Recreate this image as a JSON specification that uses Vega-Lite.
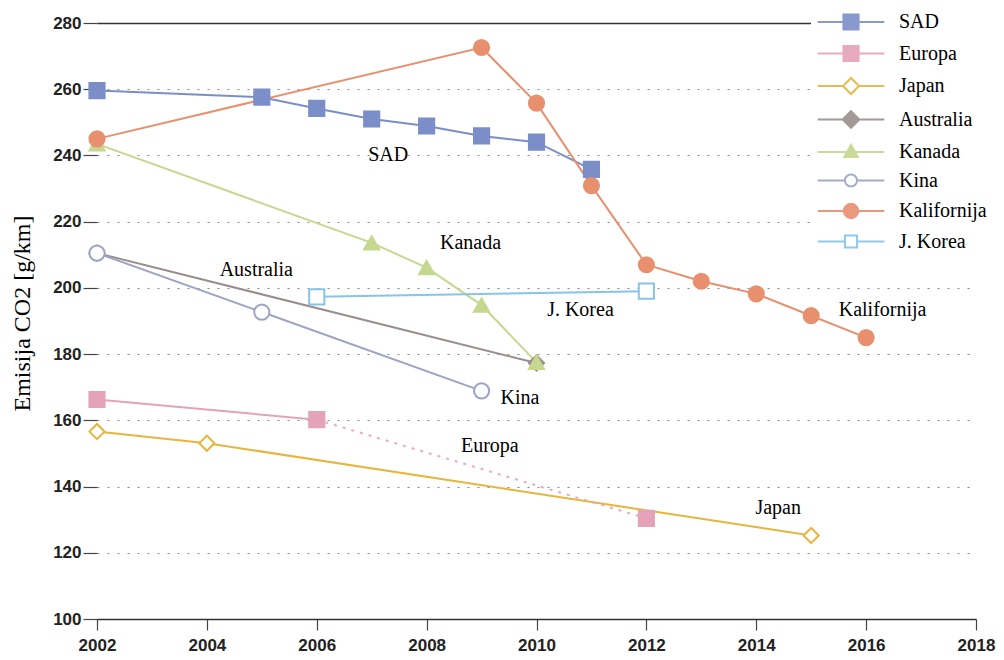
{
  "$schema": "https://vega.github.io/schema/vega-lite/v6.json",
  "autosize": "none",
  "width": 879,
  "height": 596,
  "padding": {"left": 97, "top": 23, "right": 28, "bottom": 41},
  "background": "white",
  "config": {"view": {"stroke": null}},
  "datasets": {
    "emisije": [
      {"drzava": "SAD", "godina": 2002, "emisija": 259.6},
      {"drzava": "SAD", "godina": 2005, "emisija": 257.6},
      {"drzava": "SAD", "godina": 2006, "emisija": 254.2},
      {"drzava": "SAD", "godina": 2007, "emisija": 251.0},
      {"drzava": "SAD", "godina": 2008, "emisija": 248.9},
      {"drzava": "SAD", "godina": 2009, "emisija": 245.9},
      {"drzava": "SAD", "godina": 2010, "emisija": 244.0},
      {"drzava": "SAD", "godina": 2011, "emisija": 235.8},
      {"drzava": "Europa", "godina": 2002, "emisija": 166.3},
      {"drzava": "Europa", "godina": 2006, "emisija": 160.2},
      {"drzava": "Europa", "godina": 2012, "emisija": 130.4, "cilj": true},
      {"drzava": "Japan", "godina": 2002, "emisija": 156.6},
      {"drzava": "Japan", "godina": 2004, "emisija": 153.1},
      {"drzava": "Japan", "godina": 2015, "emisija": 125.2},
      {"drzava": "Australia", "godina": 2002, "emisija": 210.5},
      {"drzava": "Australia", "godina": 2010, "emisija": 177.3},
      {"drzava": "Kanada", "godina": 2002, "emisija": 243.5},
      {"drzava": "Kanada", "godina": 2007, "emisija": 213.6},
      {"drzava": "Kanada", "godina": 2008, "emisija": 206.1},
      {"drzava": "Kanada", "godina": 2009, "emisija": 194.8},
      {"drzava": "Kanada", "godina": 2010, "emisija": 177.5},
      {"drzava": "Kina", "godina": 2002, "emisija": 210.5},
      {"drzava": "Kina", "godina": 2005, "emisija": 192.7},
      {"drzava": "Kina", "godina": 2009, "emisija": 168.9},
      {"drzava": "Kalifornija", "godina": 2002, "emisija": 245.0},
      {"drzava": "Kalifornija", "godina": 2009, "emisija": 272.6},
      {"drzava": "Kalifornija", "godina": 2010, "emisija": 255.8},
      {"drzava": "Kalifornija", "godina": 2011, "emisija": 230.9},
      {"drzava": "Kalifornija", "godina": 2012, "emisija": 207.0},
      {"drzava": "Kalifornija", "godina": 2013, "emisija": 202.0},
      {"drzava": "Kalifornija", "godina": 2014, "emisija": 198.2},
      {"drzava": "Kalifornija", "godina": 2015, "emisija": 191.6},
      {"drzava": "Kalifornija", "godina": 2016, "emisija": 185.0},
      {"drzava": "J. Korea", "godina": 2006, "emisija": 197.3},
      {"drzava": "J. Korea", "godina": 2012, "emisija": 199.0}
    ],
    "oznake": [
      {"tekst": "SAD", "godina": 2007.3, "emisija": 240.1},
      {"tekst": "Kanada", "godina": 2008.8, "emisija": 213.6},
      {"tekst": "Australia", "godina": 2004.9, "emisija": 205.4},
      {"tekst": "J. Korea", "godina": 2010.8, "emisija": 193.3},
      {"tekst": "Kalifornija", "godina": 2016.3, "emisija": 193.3},
      {"tekst": "Kina", "godina": 2009.7, "emisija": 166.7},
      {"tekst": "Europa", "godina": 2009.15, "emisija": 152.2},
      {"tekst": "Japan", "godina": 2014.4, "emisija": 133.5}
    ]
  },
  "encoding": {
    "x": {
      "field": "godina", "type": "quantitative",
      "scale": {"domain": [2002, 2018], "nice": false, "zero": false},
      "axis": {
        "values": [2002, 2004, 2006, 2008, 2010, 2012, 2014, 2016, 2018],
        "format": "d", "title": null, "grid": false,
        "labelFont": "Liberation Sans", "labelFontWeight": "bold", "labelFontSize": 17,
        "labelColor": "#222", "labelFlush": false, "labelPadding": 7,
        "tickSize": 11, "tickColor": "#444", "tickWidth": 1.2,
        "domainColor": "#333", "domainWidth": 1.5
      }
    },
    "y": {
      "field": "emisija", "type": "quantitative",
      "scale": {"domain": [100, 280], "nice": false, "zero": false},
      "axis": {
        "values": [100, 120, 140, 160, 180, 200, 220, 240, 260, 280],
        "title": "Emisija CO2 [g/km]",
        "titleFont": "Liberation Serif", "titleFontSize": 24, "titleFontWeight": "normal",
        "titleColor": "black", "titleX": -75, "titleY": 290, "titleAngle": -90,
        "titleAlign": "center", "titleBaseline": "middle",
        "domain": false,
        "labelFont": "Liberation Sans", "labelFontWeight": "bold", "labelFontSize": 17,
        "labelColor": "#222", "labelPadding": 2,
        "tickSize": 14, "tickColor": "#444", "tickWidth": 1.2,
        "grid": true,
        "gridColor": {"condition": {"test": "datum.value === 280", "value": "#333"}, "value": "#888"},
        "gridDash": {"condition": {"test": "datum.value === 280", "value": []}, "value": [2, 8]},
        "gridWidth": {"condition": {"test": "datum.value === 280", "value": 1.5}, "value": 1.2}
      }
    }
  },
  "layer": [
    {
      "data": {"name": "emisije"},
      "transform": [{"filter": "datum.cilj !== true"}],
      "mark": {"type": "line", "strokeWidth": 2},
      "encoding": {
        "stroke": {"field": "drzava", "type": "nominal",
          "scale": {
            "domain": ["SAD", "Europa", "Japan", "Australia", "Kanada", "Kina", "Kalifornija", "J. Korea"],
            "range": ["#7b8ec8", "#e5a3b9", "#e8b53c", "#9a8e8c", "#c5d88e", "#9ea3c4", "#e8906e", "#86c4e8"]
          },
          "legend": {
            "title": null, "orient": "none", "legendX": 714, "legendY": -41,
            "padding": 30, "fillColor": "white",
            "symbolSize": 256, "symbolStrokeWidth": 2, "symbolOpacity": 1,
            "labelFont": "Liberation Serif", "labelFontSize": 20, "labelColor": "black",
            "labelOffset": 38, "rowPadding": 7.5,
            "labelExpr": "datum.label === 'SAD' || datum.label === 'Europa' ? datum.label : (datum.label === 'Japan' ? '\u00a0' + datum.label : '\u00a0\u00a0' + datum.label)"
          }
        }
      }
    },
    {
      "data": {"name": "emisije"},
      "transform": [{"filter": "datum.drzava === 'Europa' && datum.godina >= 2006"}],
      "mark": {"type": "line", "strokeWidth": 2, "strokeDash": [3, 6], "opacity": 0.9},
      "encoding": {
        "stroke": {"field": "drzava", "type": "nominal"}
      }
    },
    {
      "data": {"name": "emisije"},
      "transform": [{"filter": "datum.drzava === 'SAD' || datum.drzava === 'Europa' || datum.drzava === 'J. Korea'"}],
      "mark": {"type": "point", "shape": "square", "opacity": 1, "strokeWidth": 2, "filled": false},
      "encoding": {
        "stroke": {"field": "drzava", "type": "nominal"},
        "fill": {"field": "drzava", "type": "nominal",
          "scale": {
            "domain": ["SAD", "Europa", "Japan", "Australia", "Kanada", "Kina", "Kalifornija", "J. Korea"],
            "range": ["#7b8ec8", "#e5a3b9", "white", "#9a8e8c", "#c5d88e", "white", "#e8906e", "white"]
          }
        },
        "size": {"field": "drzava", "type": "nominal", "legend": null,
          "scale": {
            "domain": ["SAD", "Europa", "Japan", "Australia", "Kanada", "Kina", "Kalifornija", "J. Korea"],
            "range": [230, 230, 270, 290, 170, 170, 200, 160]
          }
        }
      }
    },
    {
      "data": {"name": "emisije"},
      "transform": [{"filter": "datum.drzava === 'Japan' || datum.drzava === 'Australia'"}],
      "mark": {"type": "point", "shape": "diamond", "opacity": 1, "strokeWidth": 2, "filled": false},
      "encoding": {
        "stroke": {"field": "drzava", "type": "nominal"},
        "fill": {"field": "drzava", "type": "nominal"},
        "size": {"field": "drzava", "type": "nominal", "legend": null}
      }
    },
    {
      "data": {"name": "emisije"},
      "transform": [{"filter": "datum.drzava === 'Kanada'"}],
      "mark": {"type": "point", "shape": "triangle-up", "opacity": 1, "strokeWidth": 2, "filled": false},
      "encoding": {
        "stroke": {"field": "drzava", "type": "nominal"},
        "fill": {"field": "drzava", "type": "nominal"},
        "size": {"field": "drzava", "type": "nominal", "legend": null}
      }
    },
    {
      "data": {"name": "emisije"},
      "transform": [{"filter": "datum.drzava === 'Kina' || datum.drzava === 'Kalifornija'"}],
      "mark": {"type": "point", "shape": "circle", "opacity": 1, "strokeWidth": 2, "filled": false},
      "encoding": {
        "stroke": {"field": "drzava", "type": "nominal"},
        "fill": {"field": "drzava", "type": "nominal"},
        "size": {"field": "drzava", "type": "nominal", "legend": null}
      }
    },
    {
      "data": {"name": "emisije"},
      "mark": {"type": "point", "opacity": 0, "filled": false},
      "encoding": {
        "shape": {"field": "drzava", "type": "nominal",
          "scale": {
            "domain": ["SAD", "Europa", "Japan", "Australia", "Kanada", "Kina", "Kalifornija", "J. Korea"],
            "range": [
              "M-4.4,0H4.4M-1,-1H1V1H-1Z",
              "M-4.4,0H4.4M-1,-1H1V1H-1Z",
              "M-4.4,0H-1.06M1.06,0H4.4M-1.06,0L0,-1.06L1.06,0L0,1.06Z",
              "M-4.4,0H4.4M-1.1,0L0,-1.1L1.1,0L0,1.1Z",
              "M-4.4,0H4.4M0,-0.95L0.9,0.65H-0.9Z",
              "M-4.4,0H-0.8M0.8,0H4.4M-0.8,0A0.8,0.8,0,1,0,0.8,0A0.8,0.8,0,1,0,-0.8,0Z",
              "M-4.4,0H4.4M-0.95,0A0.95,0.95,0,1,0,0.95,0A0.95,0.95,0,1,0,-0.95,0Z",
              "M-4.4,0H-0.8M0.8,0H4.4M-0.8,-0.8H0.8V0.8H-0.8Z"
            ]
          }
        }
      }
    },
    {
      "data": {"name": "oznake"},
      "mark": {"type": "text", "font": "Liberation Serif", "fontSize": 20, "color": "black", "align": "center", "baseline": "middle"},
      "encoding": {
        "text": {"field": "tekst", "type": "nominal"}
      }
    }
  ]
}
